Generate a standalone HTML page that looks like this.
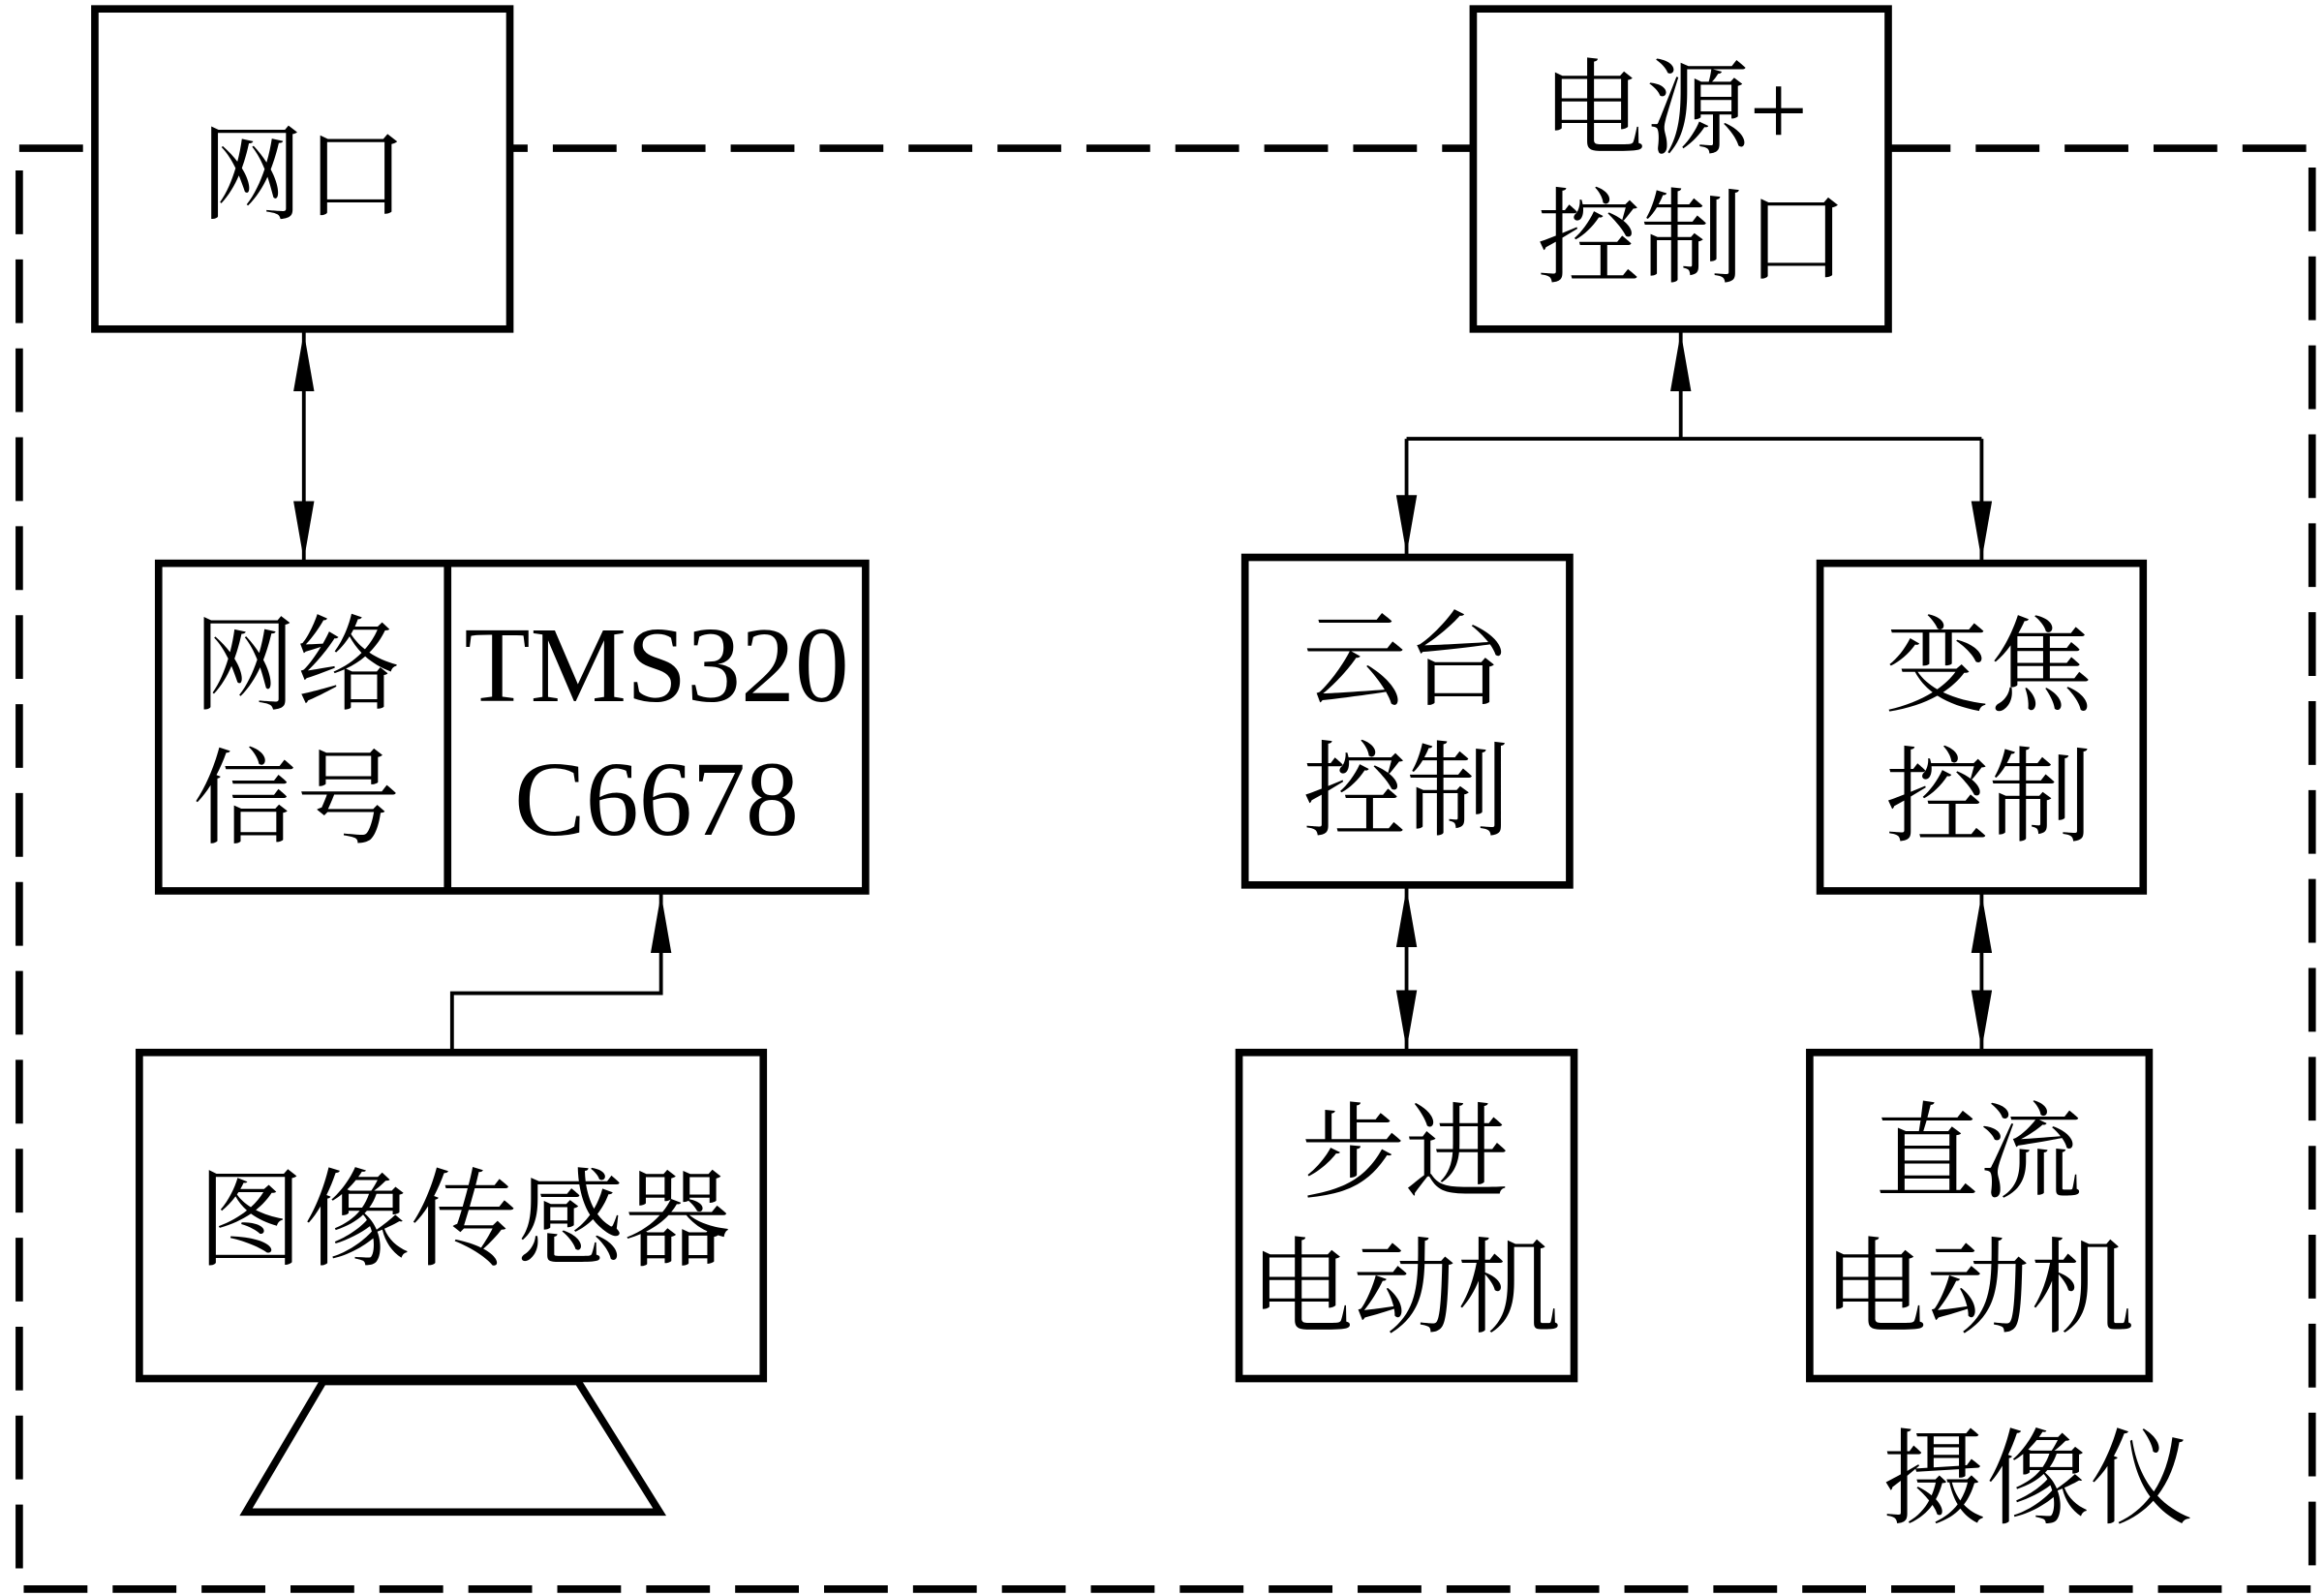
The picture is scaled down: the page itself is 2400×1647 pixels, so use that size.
<!DOCTYPE html>
<html><head><meta charset="utf-8"><style>
html,body{margin:0;padding:0;background:#fff;}
svg{display:block;}
text{font-family:"Liberation Serif","Noto Serif CJK SC",serif;fill:#000;}
</style></head><body>
<svg width="2400" height="1647" viewBox="0 0 1568 1076" preserveAspectRatio="none" xmlns="http://www.w3.org/2000/svg">
<defs>
<marker id="a" viewBox="0 0 40 14" refX="40" refY="7" markerWidth="40" markerHeight="14" markerUnits="userSpaceOnUse" orient="auto-start-reverse">
<path d="M0,0 L40,7 L0,14 Z" fill="#000"/>
</marker>
</defs>
<rect x="13" y="100" width="1547" height="972" fill="none" stroke="#000" stroke-width="5" stroke-dasharray="43 17"/>
<g fill="#fff" stroke="#000" stroke-width="5">
<rect x="64" y="6" width="280" height="216"/>
<rect x="994" y="6" width="280" height="216"/>
<rect x="107" y="380" width="477" height="221"/>
<line x1="302" y1="380" x2="302" y2="601"/>
<rect x="94" y="710" width="421" height="220"/>
<path d="M218,932 L390,932 L445,1020 L166,1020 Z"/>
<rect x="840" y="376" width="219" height="221"/>
<rect x="1228" y="380" width="218" height="221"/>
<rect x="836" y="710" width="226" height="220"/>
<rect x="1221" y="710" width="229" height="220"/>
</g>
<g stroke="#000" stroke-width="2.5" fill="none">
<line x1="205" y1="224" x2="205" y2="378" marker-start="url(#a)" marker-end="url(#a)"/>
<path d="M305,710 L305,670 L446,670 L446,603" marker-end="url(#a)"/>
<line x1="1134" y1="296" x2="1134" y2="224" marker-end="url(#a)"/>
<line x1="949" y1="296" x2="1337" y2="296"/>
<line x1="949" y1="296" x2="949" y2="374" marker-end="url(#a)"/>
<line x1="1337" y1="296" x2="1337" y2="378" marker-end="url(#a)"/>
<line x1="949" y1="599" x2="949" y2="708" marker-start="url(#a)" marker-end="url(#a)"/>
<line x1="1337" y1="603" x2="1337" y2="708" marker-start="url(#a)" marker-end="url(#a)"/>
</g>
<g font-size="70" text-anchor="middle">
<text x="205" y="142">网口</text>
<text x="1130" y="98">电源+</text>
<text x="1142" y="185">控制口</text>
<text x="200" y="473">网络</text>
<text x="200" y="563">信号</text>
<text x="443" y="473" font-size="73">TMS320</text>
<text x="443" y="563" font-size="72">C6678</text>
<text x="313" y="848" font-size="72">图像传感器</text>
<text x="949" y="470">云台</text>
<text x="949" y="558">控制</text>
<text x="1342" y="474">变焦</text>
<text x="1342" y="562">控制</text>
<text x="948" y="802">步进</text>
<text x="948" y="893">电动机</text>
<text x="1335" y="802">直流</text>
<text x="1335" y="893">电动机</text>
<text x="1375" y="1022">摄像仪</text>
</g>
</svg>
</body></html>
